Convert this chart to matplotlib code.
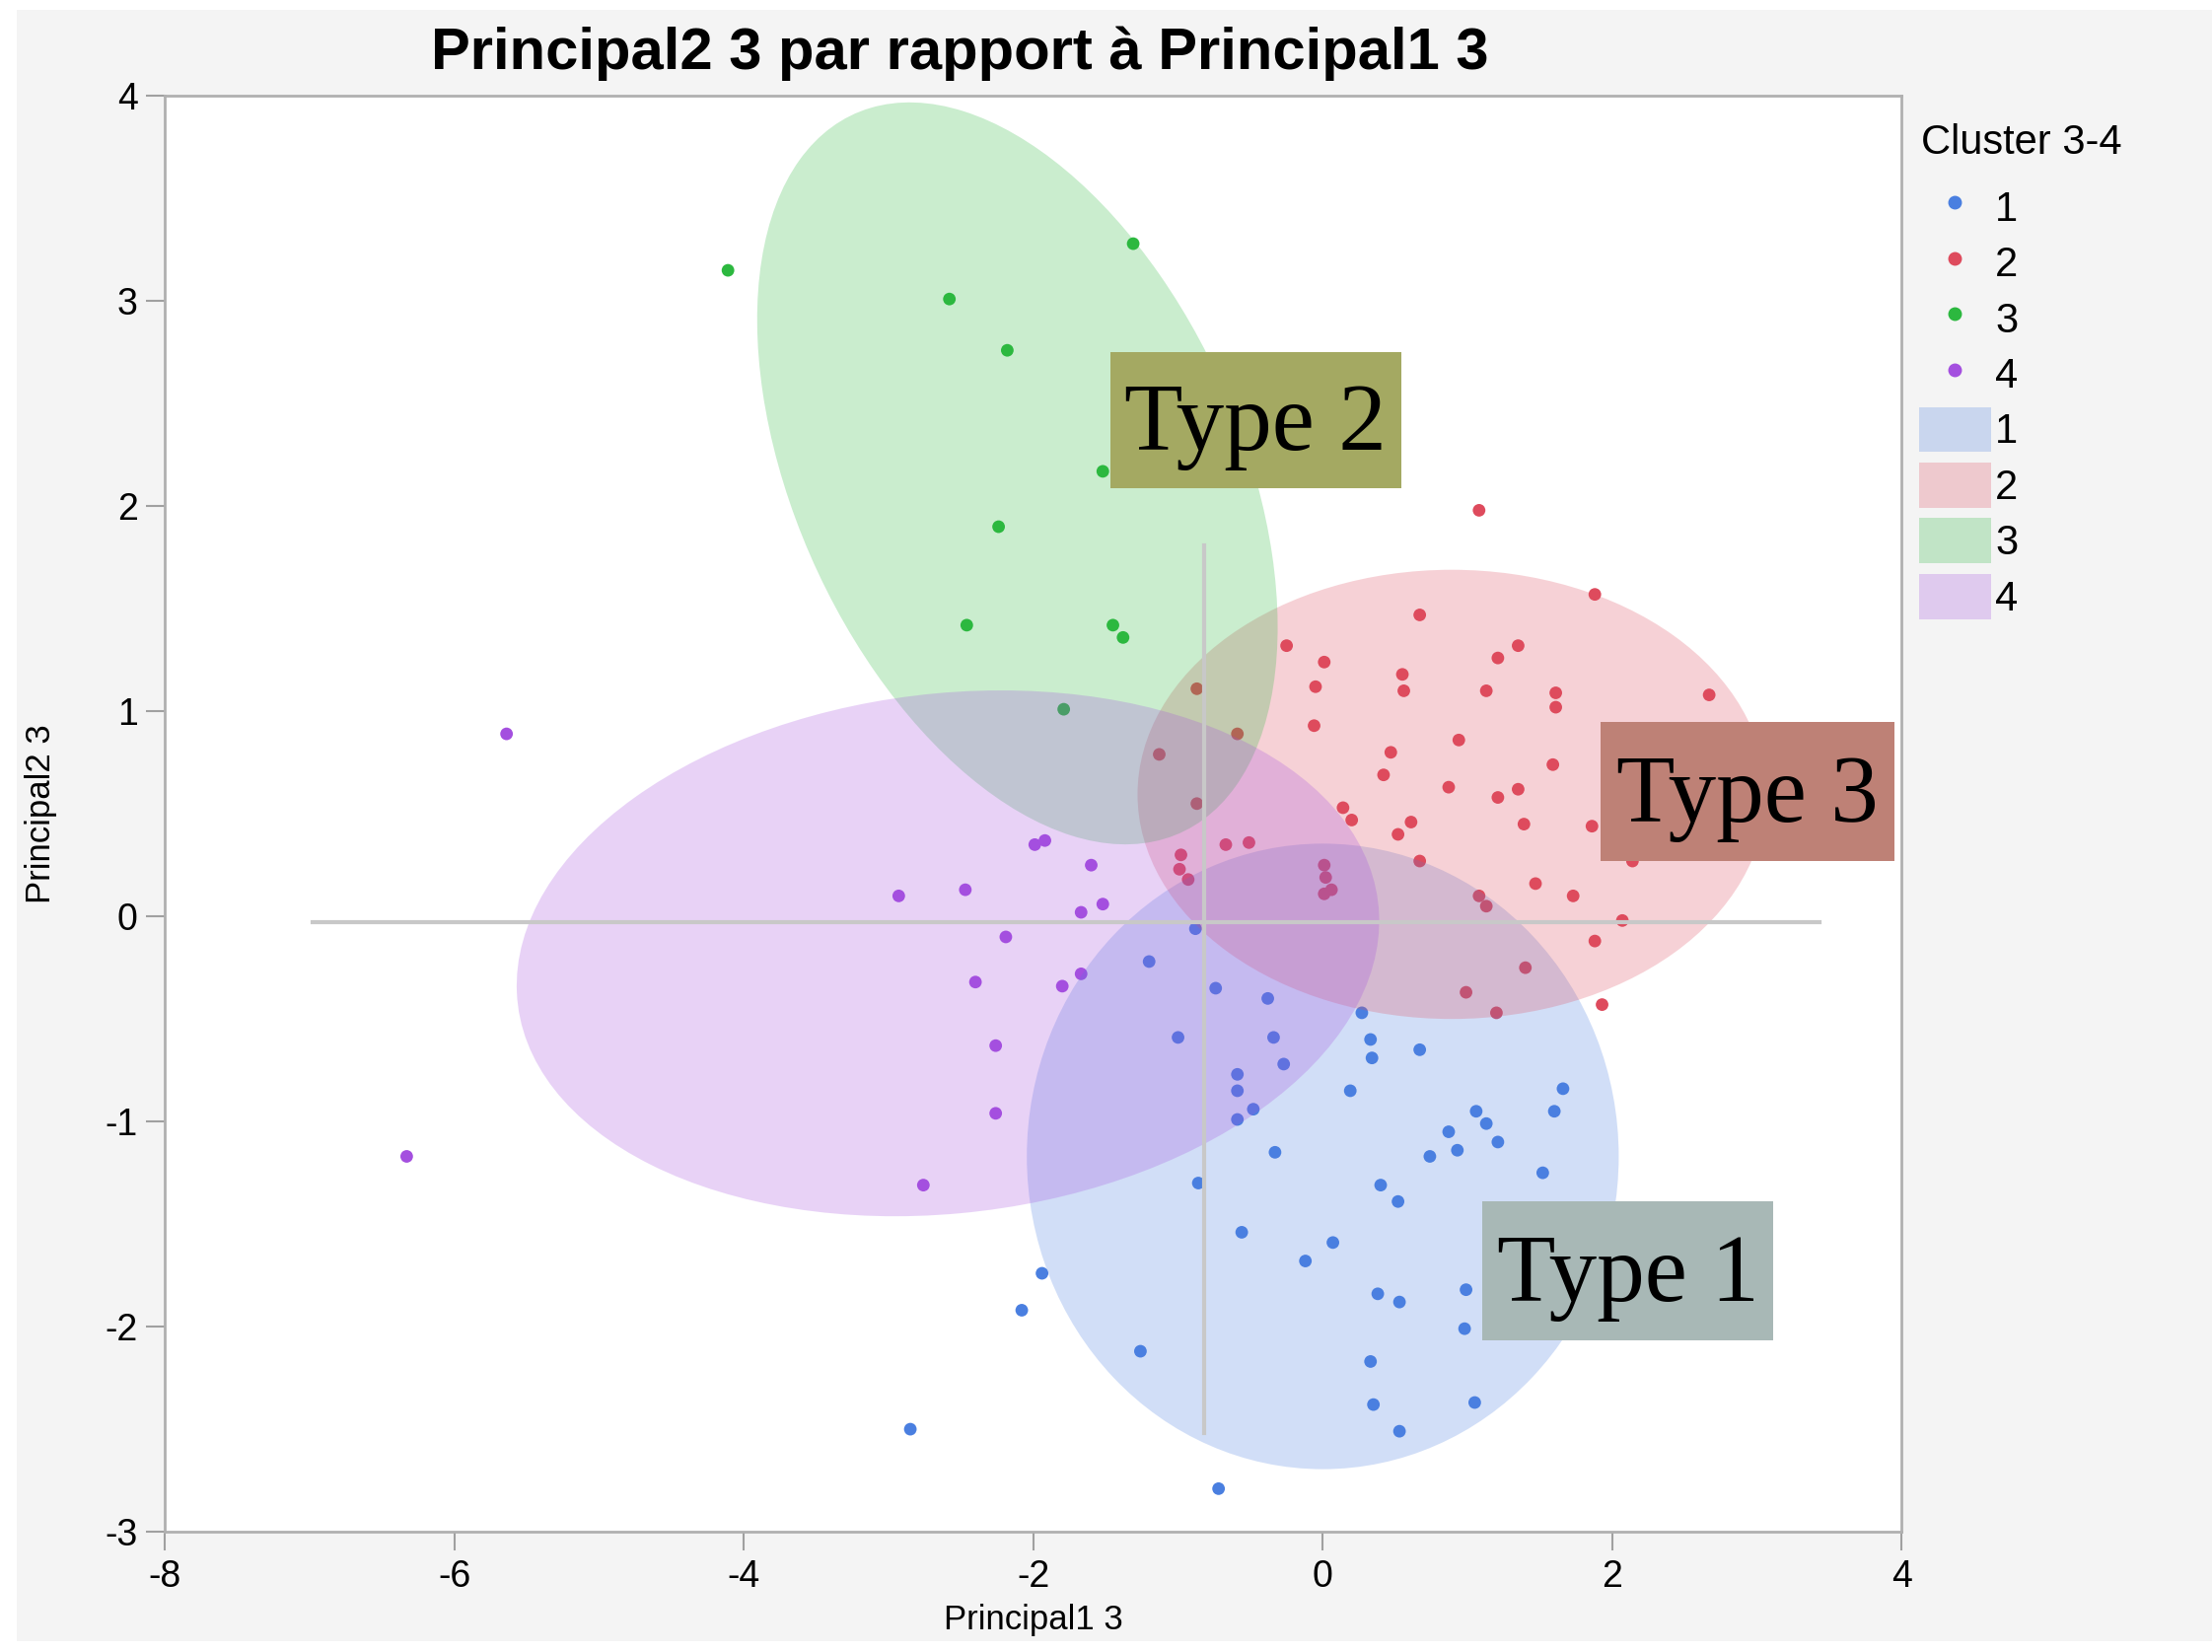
import numpy as np
import matplotlib.pyplot as plt
from matplotlib.patches import Ellipse, Rectangle, Patch
from matplotlib.lines import Line2D

plt.rcParams['font.family'] = ['Liberation Sans', 'DejaVu Sans']
plt.rcParams['axes.unicode_minus'] = False

# ==========================================
# 1. データ
# ==========================================
# クラスタ1（青）
c1_x = [-0.88, -1.20, -0.74, -0.38, -1.00, -0.34, -0.27, -0.59, -0.59, -0.48,
        -0.59, 0.27, 0.33, 0.34, 0.67, 0.19, 1.66, 1.60, 1.06, 1.13,
        0.87, 0.93, 1.21, 0.74, 1.52, -0.33, -0.86, 0.40, 0.52, -0.56,
        0.07, -0.12, -1.94, -2.08, 0.38, 0.53, 0.99, 0.98, -1.26, 0.33,
        0.35, 1.05, 0.53, -2.85, -0.72]
c1_y = [-0.06, -0.22, -0.35, -0.40, -0.59, -0.59, -0.72, -0.77, -0.85, -0.94,
        -0.99, -0.47, -0.60, -0.69, -0.65, -0.85, -0.84, -0.95, -0.95, -1.01,
        -1.05, -1.14, -1.10, -1.17, -1.25, -1.15, -1.30, -1.31, -1.39, -1.54,
        -1.59, -1.68, -1.74, -1.92, -1.84, -1.88, -1.82, -2.01, -2.12, -2.17,
        -2.38, -2.37, -2.51, -2.50, -2.79]

# クラスタ2（赤）
c2_x = [1.08, 1.88, 0.67, -0.25, 1.35, 0.01, 1.21, 0.55, 0.56, -0.05,
        1.13, 1.61, 1.61, 2.67, -0.06, -0.87, -0.59, -1.13, 0.94, 0.47,
        0.42, 1.59, 0.87, 1.35, 1.21, -0.87, 1.39, 1.86, 0.14, 0.20,
        0.61, 0.52, 2.14, -0.67, -0.51, -0.98, -0.99, -0.93, 0.01, 0.02,
        0.06, 0.01, 0.67, 1.47, 1.73, 1.08, 1.13, 2.07, 1.88, 1.40,
        0.99, 1.20, 1.93]
c2_y = [1.98, 1.57, 1.47, 1.32, 1.32, 1.24, 1.26, 1.18, 1.10, 1.12,
        1.10, 1.09, 1.02, 1.08, 0.93, 1.11, 0.89, 0.79, 0.86, 0.80,
        0.69, 0.74, 0.63, 0.62, 0.58, 0.55, 0.45, 0.44, 0.53, 0.47,
        0.46, 0.40, 0.27, 0.35, 0.36, 0.30, 0.23, 0.18, 0.25, 0.19,
        0.13, 0.11, 0.27, 0.16, 0.10, 0.10, 0.05, -0.02, -0.12, -0.25,
        -0.37, -0.47, -0.43]

# クラスタ3（緑）
c3_x = [-4.11, -1.31, -2.58, -2.18, -1.52, -2.24, -2.46, -1.45, -1.38, -1.79]
c3_y = [3.15, 3.28, 3.01, 2.76, 2.17, 1.90, 1.42, 1.42, 1.36, 1.01]

# クラスタ4（紫）
c4_x = [-5.64, -6.33, -2.93, -2.47, -1.99, -1.92, -1.60, -1.52, -1.67, -2.19,
        -2.40, -1.80, -1.67, -2.26, -2.26, -2.76]
c4_y = [0.89, -1.17, 0.10, 0.13, 0.35, 0.37, 0.25, 0.06, 0.02, -0.10,
        -0.32, -0.34, -0.28, -0.63, -0.96, -1.31]

cluster_names = ['1', '2', '3', '4']
xs = [c1_x, c2_x, c3_x, c4_x]
ys = [c1_y, c2_y, c3_y, c4_y]
colors = ['#4a7fe0', '#de4b5d', '#2cb83f', '#a44fdf']

# 密度楕円（中心, 幅, 高さ, 角度）
ell_cx = [0.0, 0.89, -2.11, -2.59]
ell_cy = [-1.17, 0.595, 2.16, -0.18]
ell_w = [4.09, 4.34, 4.29, 5.97]
ell_h = [3.05, 2.19, 2.76, 2.54]
ell_ang = [0.0, 0.0, -45.4, 3.7]

# 十字線
hline_y, hline_x0, hline_x1 = -0.03, -6.98, 3.43
vline_x, vline_y0, vline_y1 = -0.82, -2.52, 1.81

# タイプのラベル (x0, x1, y0, y1)
type_labels = ['Type 2', 'Type 3', 'Type 1']
type_boxes = [(-1.47, 0.54, 2.09, 2.75),
              (1.92, 3.95, 0.27, 0.95),
              (1.105, 3.11, -2.065, -1.39)]
type_colors = ['#a4a962', '#be8176', '#a8b8b6']

x_ticks = [-8, -6, -4, -2, 0, 2, 4]
y_ticks = [-3, -2, -1, 0, 1, 2, 3, 4]

# ==========================================
# 2. 描画
# ==========================================
fig = plt.figure(figsize=(22.43, 16.75), dpi=100, facecolor='white')
fig.patches.append(Rectangle((17 / 2243, 11 / 1675), 1 - 17 / 2243, 1 - 21 / 1675,
                             transform=fig.transFigure, facecolor='#f4f4f4',
                             edgecolor='none', zorder=-10))

ax = fig.add_axes([0.0746, 0.0728, 0.8597 - 0.0746, 0.9419 - 0.0728])
ax.set_facecolor('white')

# 点（楕円の下に描く）
for x, y, c in zip(xs, ys, colors):
    ax.scatter(x, y, s=85, color=c, edgecolors='none', zorder=2)

# 楕円（半透明）
for cx, cy, w, h, a, c in zip(ell_cx, ell_cy, ell_w, ell_h, ell_ang, colors):
    ax.add_patch(Ellipse((cx, cy), w, h, angle=a, facecolor=c, alpha=0.25,
                         edgecolor='none', zorder=3))

ax.plot([hline_x0, hline_x1], [hline_y, hline_y], color='#c8c8c8', lw=3, zorder=4)
ax.plot([vline_x, vline_x], [vline_y0, vline_y1], color='#c8c8c8', lw=3, zorder=4)

for txt, (x0, x1, y0, y1), c in zip(type_labels, type_boxes, type_colors):
    ax.add_patch(Rectangle((x0, y0), x1 - x0, y1 - y0, facecolor=c,
                           edgecolor='none', zorder=5))
    ax.text((x0 + x1) / 2, y0 + 0.28 * (y1 - y0), txt, ha='center', va='baseline',
            family='Liberation Serif', fontsize=70, color='black', zorder=6)

ax.set_xlim(-8, 4)
ax.set_ylim(-3, 4)
ax.set_xticks(x_ticks)
ax.set_yticks(y_ticks)
ax.tick_params(axis='x', length=14, width=1.5, color='#a0a0a0', labelsize=27, pad=6)
ax.tick_params(axis='y', length=14, width=1.5, color='#a0a0a0', labelsize=27, pad=6)
for sp in ax.spines.values():
    sp.set_color('#b0b0b0')
    sp.set_linewidth(2)

ax.set_xlabel('Principal1 3', fontsize=25)
ax.set_ylabel('Principal2 3', fontsize=25)
ax.xaxis.set_label_coords(0.5, -0.050)
ax.yaxis.set_label_coords(-0.062, 0.5)

fig.text(0.4337, 0.9675, 'Principal2 3 par rapport à Principal1 3',
         ha='center', va='center', fontsize=43, fontweight='bold')

# 凡例
fig.text(1948 / 2243, 1 - 145 / 1675, 'Cluster 3-4', ha='left', va='center',
         fontsize=30)
handles = [Line2D([0], [0], marker='o', ls='none', color=c, markersize=9)
           for c in colors]
handles += [Patch(facecolor=c, alpha=0.25, edgecolor='none') for c in colors]
labels = cluster_names + cluster_names
fig.legend(handles, labels, loc='upper left',
           bbox_to_anchor=(1946 / 2243, 1 - 187 / 1675), frameon=False,
           fontsize=30, borderpad=0, handlelength=1.75, handleheight=1.32,
           labelspacing=0.25, handletextpad=0.1, borderaxespad=0)

fig.savefig('out.png', dpi=100, facecolor=fig.get_facecolor())
